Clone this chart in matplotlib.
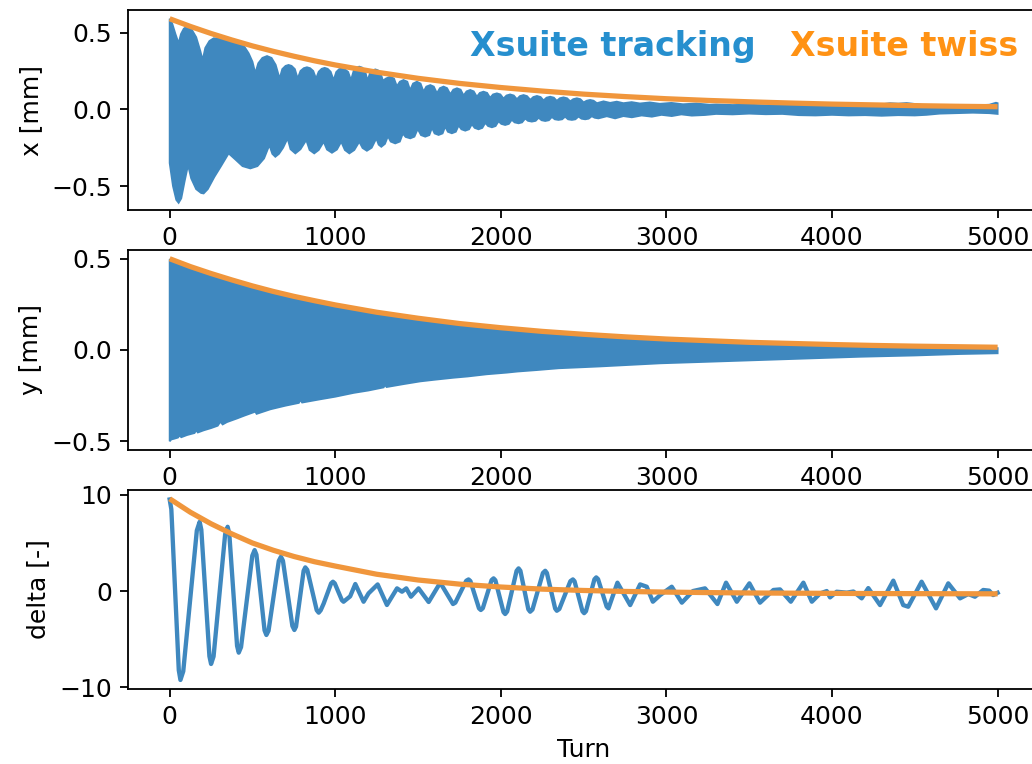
import numpy as np
import matplotlib
matplotlib.use("Agg")
import matplotlib.pyplot as plt

# ---------------- data ----------------
xticks = [0, 1000, 2000, 3000, 4000, 5000]

# twiss (orange) curves: (turn, value)
x_twiss = [(0, 0.590), (125, 0.540), (250, 0.494), (375, 0.452), (500, 0.413), (625, 0.378),
           (750, 0.346), (875, 0.316), (1000, 0.289), (1250, 0.242), (1500, 0.202), (1750, 0.169),
           (2000, 0.142), (2250, 0.119), (2500, 0.099), (2750, 0.083), (3000, 0.069), (3250, 0.058),
           (3500, 0.049), (3750, 0.041), (4000, 0.034), (4250, 0.029), (4500, 0.024), (4750, 0.020),
           (5000, 0.017)]
y_twiss = [(0, 0.50), (125, 0.457), (250, 0.419), (375, 0.384), (500, 0.351), (625, 0.321),
           (750, 0.294), (875, 0.27), (1000, 0.247), (1250, 0.207), (1500, 0.174), (1750, 0.145),
           (2000, 0.122), (2250, 0.102), (2500, 0.086), (2750, 0.072), (3000, 0.060), (3250, 0.051),
           (3500, 0.042), (3750, 0.036), (4000, 0.030), (4250, 0.025), (4500, 0.021), (4750, 0.018),
           (5000, 0.015)]
delta_twiss = [(0, 9.6), (125, 8.2), (250, 7.0), (375, 5.95), (500, 5.0), (625, 4.25), (750, 3.6),
               (875, 3.05), (1000, 2.6), (1250, 1.75), (1500, 1.15), (1750, 0.72), (2000, 0.42),
               (2250, 0.2), (2500, 0.06), (2750, -0.04), (3000, -0.11), (3250, -0.16), (3500, -0.2),
               (3750, -0.22), (4000, -0.24), (4250, -0.26), (4500, -0.27), (4750, -0.28), (5000, -0.29)]

# tracking x: upper and lower envelope of the dense oscillation band
x_track_upper = [
    (0, 0.59), (15, 0.56), (35, 0.49), (54, 0.43), (68, 0.49), (85, 0.525), (105, 0.54), (130, 0.525),
    (160, 0.47), (185, 0.38), (199, 0.32), (215, 0.40), (240, 0.445), (266, 0.463), (330, 0.46),
    (407, 0.44), (450, 0.41), (477, 0.365), (500, 0.31), (517, 0.235), (535, 0.30), (560, 0.335),
    (588, 0.347), (615, 0.335), (640, 0.29), (664, 0.20), (680, 0.262), (700, 0.283), (718, 0.289),
    (736, 0.283), (756, 0.262), (773, 0.20), (790, 0.25), (810, 0.268), (829, 0.274), (848, 0.268),
    (867, 0.25), (884, 0.20), (900, 0.245), (918, 0.264), (936, 0.27), (954, 0.264), (972, 0.245),
    (990, 0.19), (1006, 0.243), (1023, 0.261), (1040, 0.267), (1058, 0.261), (1078, 0.243),
    (1095, 0.19), (1111, 0.25), (1128, 0.272), (1145, 0.278), (1162, 0.272), (1180, 0.25),
    (1195, 0.186), (1210, 0.237), (1226, 0.254), (1242, 0.26), (1258, 0.254), (1273, 0.237),
    (1288, 0.186), (1305, 0.200), (1332, 0.213), (1355, 0.200), (1372, 0.15), (1390, 0.18),
    (1412, 0.191), (1435, 0.18), (1452, 0.125), (1470, 0.168), (1493, 0.180), (1515, 0.168),
    (1533, 0.115), (1550, 0.148), (1574, 0.158), (1595, 0.148), (1614, 0.105), (1632, 0.138),
    (1654, 0.148), (1675, 0.138), (1695, 0.098), (1713, 0.128), (1735, 0.137), (1757, 0.128),
    (1775, 0.090), (1793, 0.117), (1815, 0.126), (1836, 0.117), (1855, 0.082), (1873, 0.107),
    (1895, 0.115), (1917, 0.107), (1935, 0.075), (1953, 0.097), (1976, 0.104), (1997, 0.097),
    (2016, 0.070), (2034, 0.090), (2056, 0.097), (2078, 0.090), (2097, 0.066), (2115, 0.086),
    (2137, 0.093), (2158, 0.086), (2178, 0.062), (2196, 0.080), (2218, 0.087), (2240, 0.080),
    (2258, 0.058), (2276, 0.076), (2298, 0.082), (2320, 0.076), (2338, 0.055), (2356, 0.072),
    (2378, 0.078), (2400, 0.072), (2419, 0.052), (2437, 0.066), (2459, 0.072), (2480, 0.066),
    (2500, 0.045), (2518, 0.056), (2539, 0.061), (2560, 0.056), (2580, 0.040), (2620, 0.052),
    (2660, 0.042), (2700, 0.050), (2740, 0.040), (2790, 0.047), (2840, 0.038), (2900, 0.045),
    (2960, 0.036), (3030, 0.042), (3100, 0.033), (3180, 0.038), (3260, 0.030), (3300, 0.032),
    (3400, 0.028), (3500, 0.030), (3600, 0.026), (3700, 0.028), (3800, 0.022), (3900, 0.025),
    (4000, 0.022), (4100, 0.026), (4200, 0.028), (4300, 0.033), (4350, 0.040), (4400, 0.037),
    (4450, 0.041), (4500, 0.035), (4550, 0.028), (4650, 0.024), (4750, 0.022), (4850, 0.024),
    (4950, 0.030), (4990, 0.043), (5000, 0.040)]
x_track_lower = [
    (0, -0.35), (20, -0.50), (40, -0.59), (54, -0.609), (70, -0.58), (90, -0.47), (111, -0.363),
    (130, -0.45), (160, -0.52), (190, -0.545), (205, -0.548), (230, -0.52), (270, -0.44),
    (310, -0.37), (356, -0.287), (400, -0.33), (440, -0.37), (487, -0.385), (530, -0.37),
    (570, -0.32), (602, -0.233), (620, -0.29), (638, -0.309), (660, -0.29), (685, -0.25),
    (712, -0.189), (730, -0.26), (759, -0.287), (790, -0.26), (825, -0.20), (845, -0.265),
    (873, -0.287), (900, -0.265), (930, -0.211), (950, -0.262), (980, -0.283), (1010, -0.262),
    (1036, -0.211), (1058, -0.265), (1085, -0.287), (1115, -0.265), (1145, -0.211), (1165, -0.252),
    (1191, -0.27), (1220, -0.25), (1248, -0.189), (1262, -0.23), (1278, -0.244), (1300, -0.225),
    (1318, -0.175), (1335, -0.21), (1362, -0.222), (1390, -0.21), (1408, -0.158), (1425, -0.18),
    (1453, -0.189), (1478, -0.178), (1498, -0.128), (1518, -0.168), (1543, -0.178), (1568, -0.168),
    (1584, -0.12), (1600, -0.157), (1624, -0.167), (1648, -0.157), (1664, -0.112), (1680, -0.146),
    (1704, -0.156), (1728, -0.146), (1745, -0.105), (1762, -0.130), (1785, -0.139), (1808, -0.130),
    (1825, -0.097), (1842, -0.121), (1865, -0.130), (1888, -0.121), (1906, -0.088), (1923, -0.109),
    (1946, -0.117), (1968, -0.109), (1986, -0.078), (2003, -0.095), (2026, -0.102), (2048, -0.095),
    (2066, -0.068), (2083, -0.085), (2107, -0.091), (2128, -0.085), (2147, -0.060), (2164, -0.075),
    (2187, -0.080), (2210, -0.075), (2228, -0.055), (2246, -0.071), (2268, -0.076), (2290, -0.071),
    (2308, -0.050), (2326, -0.065), (2348, -0.069), (2370, -0.065), (2388, -0.048), (2406, -0.065),
    (2429, -0.069), (2450, -0.065), (2469, -0.047), (2487, -0.061), (2509, -0.065), (2530, -0.061),
    (2549, -0.045), (2567, -0.055), (2589, -0.059), (2640, -0.045), (2690, -0.059), (2740, -0.044),
    (2791, -0.052), (2850, -0.040), (2912, -0.048), (2970, -0.036), (3032, -0.044), (3090, -0.033),
    (3153, -0.041), (3233, -0.037), (3300, -0.030), (3400, -0.033), (3500, -0.028), (3600, -0.032),
    (3700, -0.030), (3800, -0.038), (3900, -0.040), (4000, -0.036), (4100, -0.040), (4200, -0.038),
    (4300, -0.042), (4400, -0.038), (4500, -0.040), (4570, -0.036), (4650, -0.028), (4750, -0.025),
    (4850, -0.022), (4950, -0.025), (5000, -0.030)]

# tracking y: upper and lower envelope
y_track_upper = [
    (0, 0.497), (50, 0.475), (54, 0.462), (58, 0.473), (125, 0.452), (180, 0.433), (185, 0.395),
    (190, 0.43), (250, 0.414), (341, 0.384), (346, 0.368), (351, 0.382), (375, 0.379), (472, 0.354),
    (477, 0.337), (482, 0.352), (500, 0.346), (625, 0.316), (663, 0.307), (668, 0.292), (673, 0.305),
    (750, 0.289), (875, 0.265), (1000, 0.242), (1250, 0.202), (1407, 0.182), (1412, 0.172),
    (1417, 0.181), (1500, 0.169), (1750, 0.140), (2000, 0.117), (2250, 0.097), (2500, 0.081),
    (2750, 0.067), (3000, 0.055), (3250, 0.046), (3500, 0.037), (3750, 0.031), (4000, 0.025),
    (4250, 0.020), (4500, 0.016), (4750, 0.013), (5000, 0.010)]
y_track_lower = [
    (0, -0.50), (10, -0.49), (24, -0.487), (50, -0.48), (60, -0.468), (70, -0.478), (105, -0.466),
    (150, -0.455), (160, -0.44), (170, -0.452), (206, -0.44), (250, -0.428), (290, -0.415),
    (306, -0.393), (320, -0.408), (346, -0.395), (407, -0.375), (450, -0.36), (517, -0.338),
    (525, -0.35), (608, -0.325), (700, -0.305), (780, -0.29), (789, -0.274), (800, -0.288),
    (910, -0.27), (1000, -0.256), (1111, -0.235), (1200, -0.222), (1292, -0.205), (1300, -0.192),
    (1310, -0.203), (1412, -0.187), (1513, -0.172), (1600, -0.163), (1714, -0.152), (1800, -0.145),
    (1915, -0.133), (2036, -0.124), (2100, -0.118), (2217, -0.110), (2350, -0.100), (2478, -0.095),
    (2600, -0.09), (2962, -0.073), (3200, -0.066), (3566, -0.055), (3800, -0.048), (4170, -0.037),
    (4500, -0.030), (4774, -0.022), (5000, -0.018)]

# tracking delta (line)
delta_track = [
    (0, 9.53), (10, 8.51), (55, -8.23), (65, -9.25), (82, -8.35), (164, 6.30), (181, 7.2), (191, 6.39),
    (240, -6.78), (250, -7.59), (265, -6.81), (335, 5.91), (350, 6.69), (360, 5.98), (407, -5.70),
    (417, -6.41), (431, -5.83), (499, 3.68), (513, 4.26), (524, 3.78), (573, -4.09), (584, -4.57),
    (597, -4.13), (659, 3.13), (672, 3.57), (684, 3.15), (741, -3.63), (753, -4.05), (763, -3.70),
    (809, 2.11), (819, 2.46), (831, 2.20), (888, -1.99), (900, -2.25), (912, -2.0), (930, -1.3),
    (975, 0.8), (986, 0.97), (997, 0.8), (1040, -0.95), (1050, -1.11), (1090, -0.55), (1121, 0.73),
    (1171, -1.11), (1201, -0.24), (1256, 0.69), (1312, -1.45), (1373, 0.28), (1403, -0.07),
    (1429, 0.28), (1457, -0.59), (1503, 0.28), (1564, -1.14), (1634, 0.87), (1711, -1.35),
    (1725, -1.21), (1791, 1.07), (1805, 1.21), (1816, 1.04), (1868, -1.80), (1879, -1.97),
    (1891, -1.79), (1944, 1.14), (1956, 1.32), (1967, 1.12), (2016, -2.19), (2026, -2.39),
    (2038, -2.13), (2095, 2.10), (2107, 2.36), (2118, 2.11), (2166, -1.90), (2177, -2.15),
    (2191, -1.92), (2254, 1.88), (2268, 2.11), (2278, 1.88), (2328, -1.82), (2338, -2.05),
    (2353, -1.87), (2420, 1.03), (2435, 1.21), (2445, 1.02), (2493, -2.11), (2503, -2.3),
    (2514, -2.10), (2565, 1.22), (2576, 1.42), (2587, 1.24), (2639, -1.62), (2650, -1.80),
    (2704, 0.87), (2781, -1.46), (2841, 0.69), (2881, 0.45), (2918, -1.11), (2962, -0.42),
    (3032, 0.45), (3093, -1.21), (3160, 0.0), (3233, 0.28), (3308, -1.35), (3360, 0.87),
    (3425, -1.11), (3501, 0.80), (3565, -1.21), (3646, 0.11), (3686, 0.17), (3751, -1.11),
    (3827, 0.87), (3878, -1.11), (3928, -0.25), (3968, 0.0), (3988, -0.66), (4028, -0.07),
    (4089, -0.17), (4129, -0.05), (4179, -0.76), (4219, 0.31), (4290, -1.46), (4370, 1.08),
    (4430, -1.46), (4460, -1.63), (4541, 0.97), (4628, -1.80), (4702, 0.80), (4773, -0.76),
    (4823, -0.31), (4863, -0.59), (4913, 0.11), (4949, 0.04), (4973, -0.42), (5000, -0.18)]

ylabels = ["x [mm]", "y [mm]", "delta [-]"]
xlabel = "Turn"
title_left = "Xsuite tracking"
title_right = "Xsuite twiss"

# ---------------- styling ----------------
BLUE = "#3f88bf"
ORANGE = "#f0963c"
TXT_BLUE = "#268fce"
TXT_ORANGE = "#ff9214"

plt.rcParams["font.size"] = 11

W, H, DPI = 1032, 764, 164
fig = plt.figure(figsize=(W / DPI, H / DPI), dpi=DPI)

left, width = 0.1243, 0.8825
ax1 = fig.add_axes([left, 0.7251, width, 0.2618])
ax2 = fig.add_axes([left, 0.4110, width, 0.2618])
ax3 = fig.add_axes([left, 0.0982, width, 0.2605])


def unzip(pairs):
    a = np.array(pairs, dtype=float)
    return a[:, 0], a[:, 1]


def band(ax, upper, lower):
    tu, vu = unzip(upper)
    tl, vl = unzip(lower)
    ax.fill(np.concatenate([tu, tl[::-1]]), np.concatenate([vu, vl[::-1]]),
            facecolor=BLUE, edgecolor=BLUE, linewidth=0.8, zorder=2)


band(ax1, x_track_upper, x_track_lower)
t, v = unzip(x_twiss)
ax1.plot(t, v, color=ORANGE, lw=2.3, zorder=3, solid_capstyle="butt")

band(ax2, y_track_upper, y_track_lower)
t, v = unzip(y_twiss)
ax2.plot(t, v, color=ORANGE, lw=2.3, zorder=3, solid_capstyle="butt")

t, v = unzip(delta_track)
ax3.plot(t, v, color=BLUE, lw=1.9, zorder=2)
t, v = unzip(delta_twiss)
ax3.plot(t, v, color=ORANGE, lw=2.3, zorder=3, solid_capstyle="butt")

ylims = [(-0.656, 0.647), (-0.548, 0.548), (-10.19, 10.52)]
yticks = [[-0.5, 0.0, 0.5], [-0.5, 0.0, 0.5], [-10, 0, 10]]
for ax, lab, yl, yt in zip([ax1, ax2, ax3], ylabels, ylims, yticks):
    ax.set_xlim(-250, 5250)
    ax.set_ylim(*yl)
    ax.set_xticks(xticks)
    ax.set_yticks(yt)
    ax.set_ylabel(lab)
ax3.set_xlabel(xlabel)

fig.text(470 / W, 1 - 56 / H, title_left, color=TXT_BLUE, fontsize=14.6,
         fontweight="bold", family="DejaVu Sans", va="baseline", ha="left")
fig.text(790 / W, 1 - 56 / H, title_right, color=TXT_ORANGE, fontsize=14.6,
         fontweight="bold", family="DejaVu Sans", va="baseline", ha="left")

fig.savefig("out.png", dpi=DPI)
